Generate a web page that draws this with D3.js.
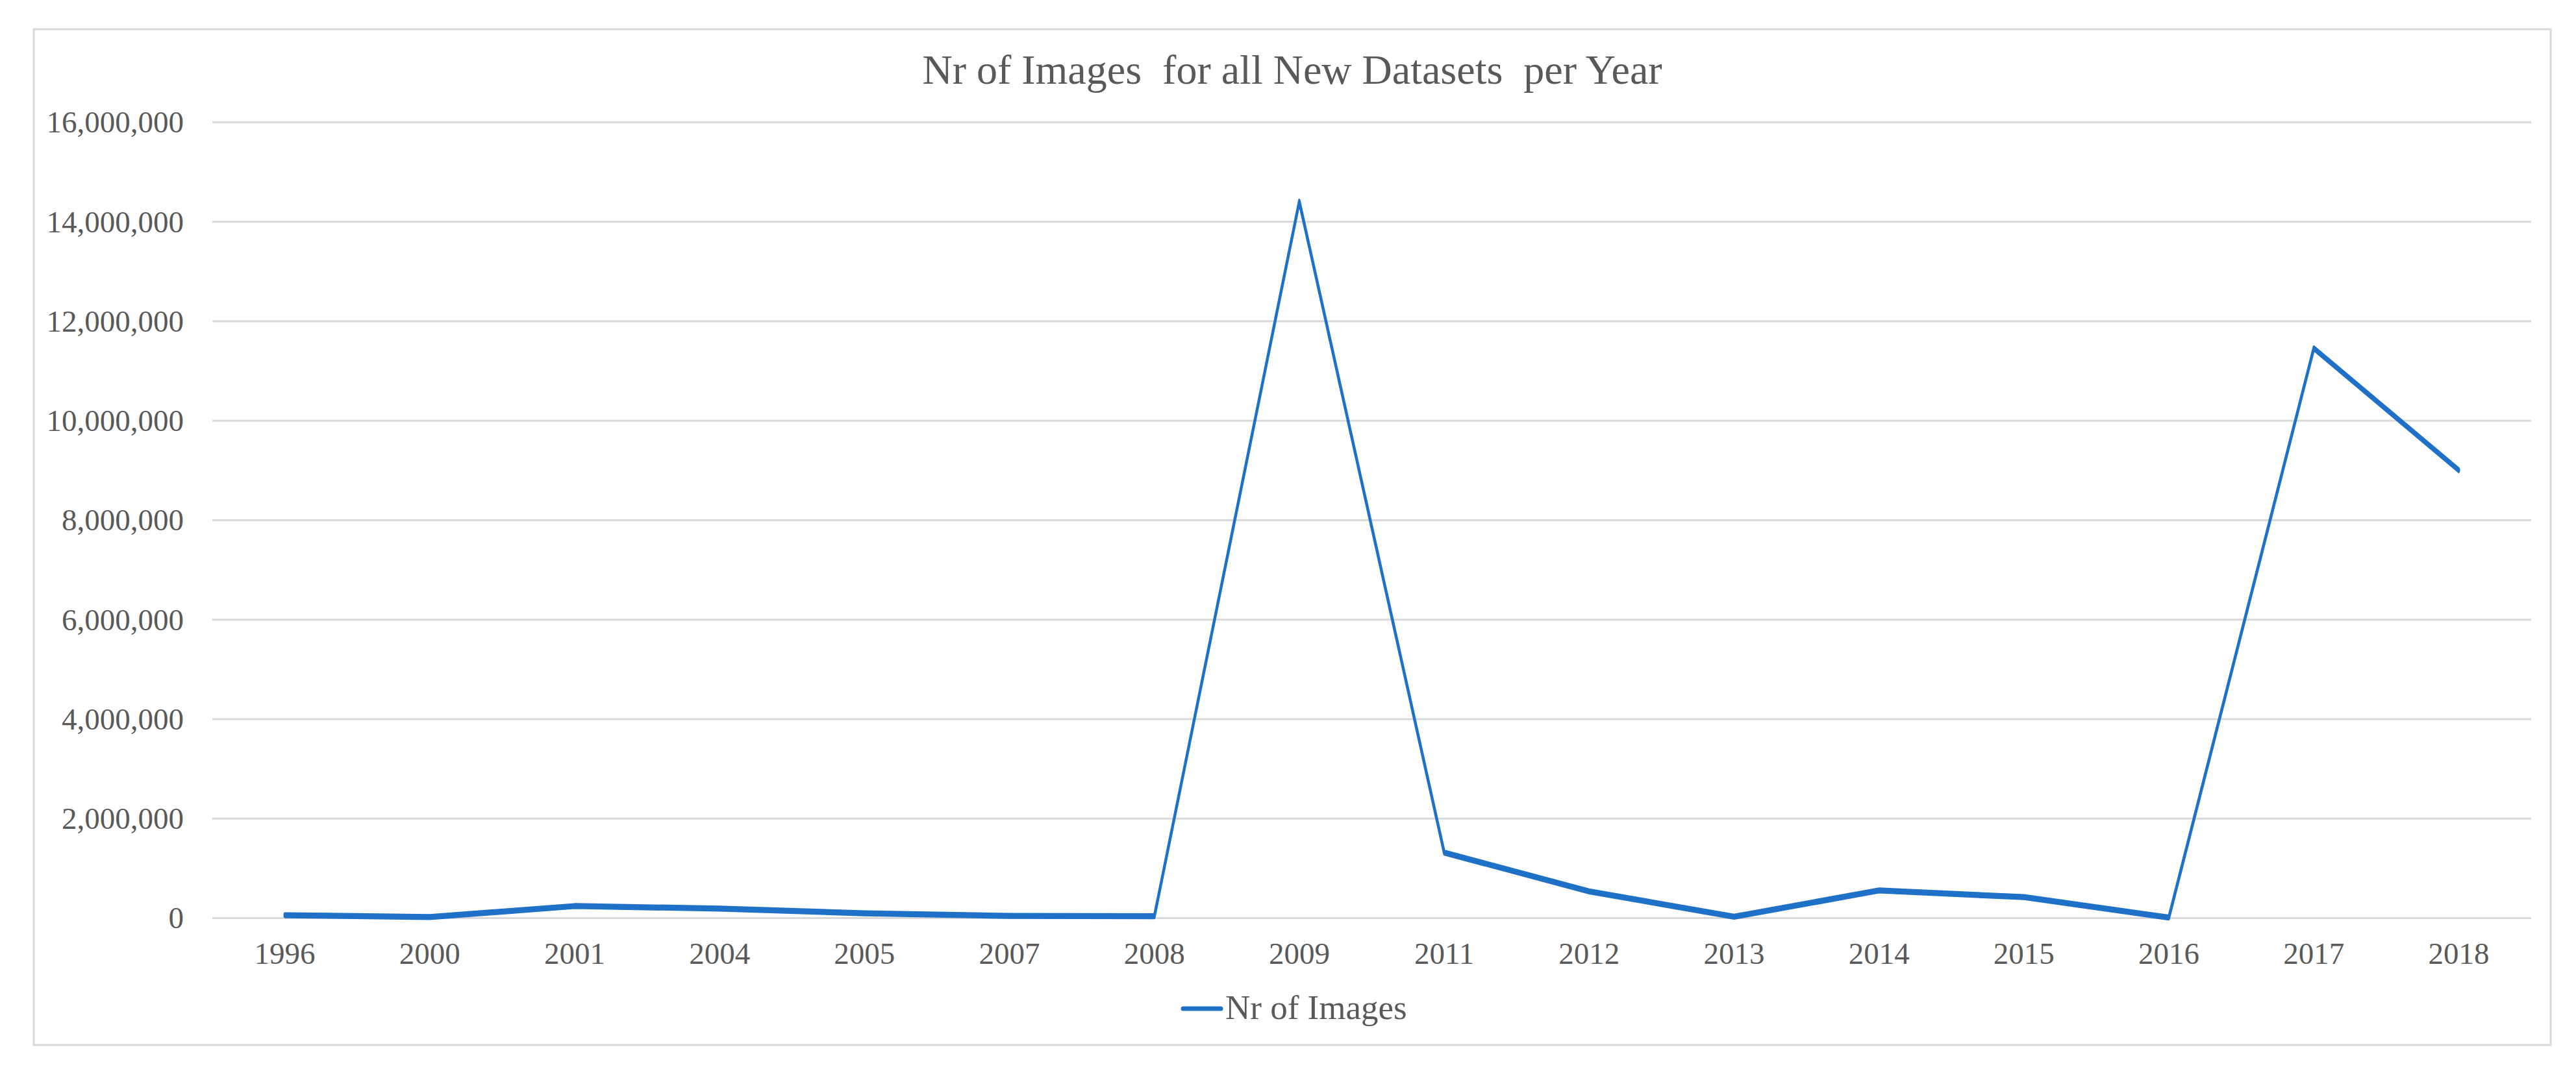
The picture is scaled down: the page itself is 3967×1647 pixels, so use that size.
<!DOCTYPE html>
<html>
<head>
<meta charset="utf-8">
<script src="https://cdn.jsdelivr.net/npm/d3@7"></script>
<style>
  body { margin: 0; background: #fff; }
  text { font-family: "Liberation Serif", "Times New Roman", serif; fill: #595959; }
</style>
</head>
<body>
<div id="chart"></div>
<script>
// data
var years = ["1996", "2000", "2001", "2004", "2005", "2007", "2008", "2009",
             "2011", "2012", "2013", "2014", "2015", "2016", "2017", "2018"];
var nrImages = [52000, 15000, 235000, 185000, 90000, 38000, 30000, 14400000,
                1310000, 530000, 20000, 550000, 415000, 5000, 11450000, 9000000];
var yTicks = [0, 2000000, 4000000, 6000000, 8000000, 10000000, 12000000, 14000000, 16000000];
var titleText = "Nr of Images  for all New Datasets  per Year";
var seriesName = "Nr of Images";

var width = 3967, height = 1647;
var plot = { left: 327, right: 3898, top: 188, bottom: 1414 };
var lineColor = "#1f71c8";
var stretch = 2.2; // original picture was stretched vertically

var svg = d3.select("#chart").append("svg")
  .attr("width", width)
  .attr("height", height);

svg.append("rect")
  .attr("width", width).attr("height", height)
  .attr("fill", "#fff");

// chart frame
svg.append("rect")
  .attr("x", 52).attr("y", 45)
  .attr("width", 3876).attr("height", 1565)
  .attr("fill", "none")
  .attr("stroke", "#d9d9d9")
  .attr("stroke-width", 3);

// title
svg.append("text")
  .attr("x", 1990).attr("y", 129)
  .attr("text-anchor", "middle")
  .attr("font-size", 64)
  .attr("xml:space", "preserve")
  .style("white-space", "pre")
  .text(titleText);

var x = d3.scaleBand().domain(years).range([plot.left, plot.right]);
var y = d3.scaleLinear().domain([0, 16000000]).range([plot.bottom, plot.top]);

// y axis with gridlines
var yAxis = svg.append("g")
  .attr("transform", "translate(" + plot.left + ",0)")
  .call(d3.axisLeft(y).tickValues(yTicks).tickFormat(d3.format(","))
    .tickSize(-(plot.right - plot.left)).tickPadding(44));
yAxis.select(".domain").remove();
yAxis.selectAll(".tick line").attr("stroke", "#d9d9d9").attr("stroke-width", 3);
yAxis.selectAll(".tick text")
  .attr("font-size", 47)
  .attr("dy", "0.34em")
  .style("fill", "#595959");

// x axis labels
var xAxis = svg.append("g")
  .attr("transform", "translate(0," + plot.bottom + ")")
  .call(d3.axisBottom(x).tickSize(0));
xAxis.select(".domain").remove();
xAxis.selectAll(".tick text")
  .attr("font-size", 47)
  .attr("y", 71)
  .attr("dy", 0)
  .style("fill", "#595959");

// line, drawn in a vertically stretched frame so flat parts look thicker
var yS = d3.scaleLinear().domain(y.domain()).range(y.range().map(function (v) { return v / stretch; }));
var line = d3.line()
  .x(function (d, i) { return x(years[i]) + x.bandwidth() / 2; })
  .y(function (d) { return yS(d); });

svg.append("g")
  .attr("transform", "scale(1," + stretch + ")")
  .append("path")
  .datum(nrImages)
  .attr("d", line)
  .attr("fill", "none")
  .attr("stroke", lineColor)
  .attr("stroke-width", 4.2)
  .attr("stroke-linejoin", "round")
  .attr("stroke-linecap", "round");

// legend
var legend = svg.append("g");
legend.append("line")
  .attr("x1", 1822).attr("x2", 1880)
  .attr("y1", 1554).attr("y2", 1554)
  .attr("stroke", lineColor)
  .attr("stroke-width", 7)
  .attr("stroke-linecap", "round");
legend.append("text")
  .attr("x", 1887).attr("y", 1570)
  .attr("font-size", 53)
  .text(seriesName);
</script>
</body>
</html>
